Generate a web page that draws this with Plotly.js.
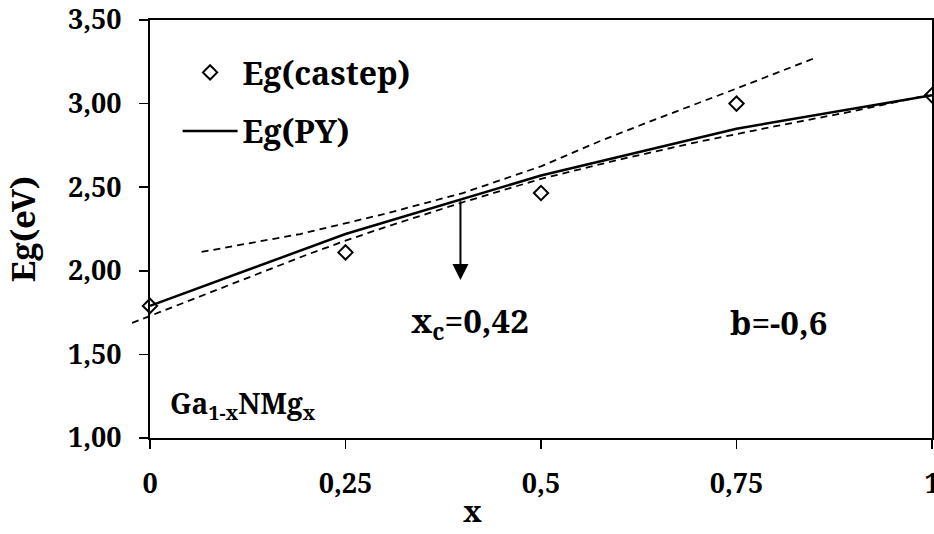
<!DOCTYPE html>
<html>
<head>
<meta charset="utf-8">
<script src="https://cdn.plot.ly/plotly-3.0.1.min.js"></script>
<style>html,body{margin:0;padding:0;background:#fff;}</style>
</head>
<body>
<div id="chart" style="width:934px;height:534px;"></div>
<script>
// ---- data ----
const xComp = [0, 0.25, 0.5, 0.75, 1];
const egCastep = [1.79, 2.11, 2.465, 3.00, 3.05];
const egPY = [1.79, 2.22, 2.57, 2.85, 3.05];
const upperX = [0.066, 0.192, 0.30, 0.40, 0.50, 0.575, 0.643, 0.75, 0.852];
const upperY = [2.113, 2.22, 2.34, 2.465, 2.625, 2.775, 2.90, 3.09, 3.276];
const lowerX = [-0.023, 0, 0.1, 0.2, 0.25, 0.3, 0.4, 0.5, 0.6, 0.7, 0.8, 0.9, 0.995];
const lowerY = [1.688, 1.73, 1.915, 2.095, 2.18, 2.26, 2.41, 2.55, 2.665, 2.77, 2.865, 2.955, 3.05];
const xTickVals = [0, 0.25, 0.5, 0.75, 1];
const xTickText = ['0', '0,25', '0,5', '0,75', '1'];
const yTickVals = [1, 1.5, 2, 2.5, 3, 3.5];
const yTickText = ['1,00', '1,50', '2,00', '2,50', '3,00', '3,50'];
const arrowX = 0.397, arrowFromY = 2.425, arrowToY = 1.945;

const FONT = 'Noto Serif, DejaVu Serif, serif';

const traces = [
  {x: lowerX, y: lowerY, xaxis: 'x2', yaxis: 'y2', mode: 'lines', showlegend: false,
   line: {color: 'black', width: 1.8, dash: '7px,5px'}, hoverinfo: 'skip'},
  {x: upperX, y: upperY, xaxis: 'x2', yaxis: 'y2', mode: 'lines', showlegend: false,
   line: {color: 'black', width: 1.8, dash: '7px,5px'}, hoverinfo: 'skip'},
  {x: xComp, y: egPY, xaxis: 'x2', yaxis: 'y2', mode: 'lines', name: 'Eg(PY)', legendgroup: 'b',
   legendrank: 2, line: {color: 'black', width: 2.5}},
  {x: xComp, y: egCastep, mode: 'markers', name: 'Eg(castep)', legendgroup: 'a', legendrank: 1,
   cliponaxis: false,
   marker: {symbol: 'diamond-open', size: 11, color: 'black', line: {color: 'black', width: 2}}}
];

const layout = {
  width: 934, height: 534,
  margin: {l: 132, r: 2, t: 20, b: 96, pad: 0},
  paper_bgcolor: 'white', plot_bgcolor: 'rgba(0,0,0,0)',
  font: {family: FONT, color: 'black'},
  showlegend: true,
  legend: {x: 0.057, y: 0.94, xanchor: 'left', yanchor: 'top', bgcolor: 'rgba(0,0,0,0)',
           font: {size: 32, weight: 'bold', family: FONT}, itemwidth: 55, tracegroupgap: 14,
           traceorder: 'grouped'},
  xaxis: {domain: [0.0225, 1], range: [0, 1], tickvals: xTickVals, ticktext: xTickText,
          ticks: 'outside', ticklen: 9, tickwidth: 1.5, tickcolor: 'black',
          showline: true, linewidth: 2, linecolor: 'black', mirror: true,
          showgrid: false, zeroline: false, ticklabelstandoff: 12, ticklabeloverflow: 'allow',
          tickfont: {size: 27, weight: 'bold', family: FONT}},
  yaxis: {range: [1, 3.5], tickvals: yTickVals, ticktext: yTickText,
          ticks: 'outside', ticklen: 9, tickwidth: 1.5, tickcolor: 'black',
          showline: true, linewidth: 2, linecolor: 'black', mirror: true,
          showgrid: false, zeroline: false, ticklabelstandoff: 12,
          tickfont: {size: 27, weight: 'bold', family: FONT},
          title: {text: 'Eg(eV)', standoff: 22, font: {size: 33, weight: 'bold', family: FONT}}},
  xaxis2: {domain: [0, 1], range: [-0.023, 1], visible: false, anchor: 'y2', fixedrange: true},
  yaxis2: {domain: [0, 1], range: [1, 3.5], visible: false, anchor: 'x2', fixedrange: true},
  annotations: [
    {x: arrowX, y: arrowToY, ax: arrowX, ay: arrowFromY, xref: 'x', yref: 'y', axref: 'x', ayref: 'y',
     text: '', showarrow: true, arrowhead: 2, arrowsize: 1.6, arrowwidth: 2, arrowcolor: 'black', standoff: 0},
    {x: 0.409, y: 1.69, xref: 'x', yref: 'y', showarrow: false,
     text: 'x<sub>c</sub>=0,42', font: {size: 33, weight: 'bold', family: FONT}},
    {x: 0.804, y: 1.69, xref: 'x', yref: 'y', showarrow: false,
     text: 'b=-0,6', font: {size: 33, weight: 'bold', family: FONT}},
    {x: 0.119, y: 1.20, xref: 'x', yref: 'y', showarrow: false,
     text: 'Ga<sub>1-x</sub>NMg<sub>x</sub>', font: {size: 28, weight: 'bold', family: FONT}},
    {x: 0.412, y: -0.225, xref: 'x', yref: 'paper', showarrow: false,
     text: 'x', font: {size: 29, weight: 'bold', family: FONT}}
  ]
};

Plotly.newPlot('chart', traces, layout, {displayModeBar: false, staticPlot: true});
</script>
</body>
</html>
